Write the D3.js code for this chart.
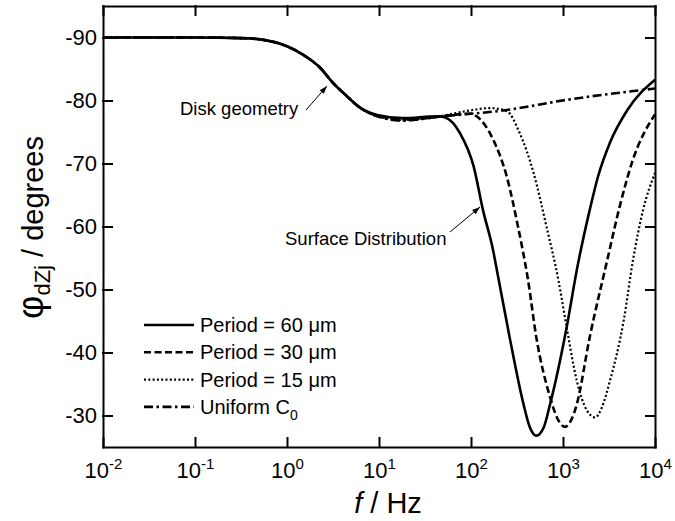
<!DOCTYPE html>
<html>
<head>
<meta charset="utf-8">
<script src="https://cdn.jsdelivr.net/npm/d3@7"></script>
<style>
body { margin: 0; background: #fff; }
text { font-family: Arial, "Liberation Sans", sans-serif; fill: #000; }
</style>
</head>
<body>
<div id="chart"></div>
<script>

// frequencies in Hz, phase angles in degrees
const freq60 = [0.01, 0.1, 0.316, 0.51, 1, 1.48, 2.29, 3.16, 4.47, 6.17, 9.55, 18.2, 42.7, 52.5, 76, 107, 135, 174, 191, 263, 372, 437, 513, 617, 724, 1096, 1413, 1950, 2399, 3236, 5012, 10000];
const phase60 = [-90, -90, -89.9, -89.7, -88.6, -87.3, -85.2, -82.8, -80.7, -78.9, -77.7, -77.2, -77.5, -77.3, -74.8, -69.5, -62.6, -56.2, -53.1, -42.4, -31.8, -28.1, -26.8, -28.1, -31.8, -44, -53.1, -62.6, -67.9, -73.3, -78.5, -83.3];

const freq30 = [0.01, 0.1, 0.316, 0.51, 1, 1.48, 2.29, 3.16, 4.47, 6.17, 9.55, 18.2, 42.7, 72, 100, 115, 174, 245, 324, 417, 513, 724, 871, 1047, 1230, 1413, 1950, 3020, 4169, 5754, 10000];
const phase30 = [-90, -90, -89.9, -89.7, -88.6, -87.3, -85.2, -82.8, -80.7, -78.9, -77.6, -77.0, -77.4, -77.8, -77.9, -77.5, -73.8, -67.9, -60, -51.5, -42.4, -32.9, -29.5, -28.2, -29.3, -31.8, -42.4, -54.6, -63.4, -70.6, -77.8];

const freq15 = [0.01, 0.1, 0.316, 0.51, 1, 1.48, 2.29, 3.16, 4.47, 6.17, 9.55, 18.2, 42.7, 63, 105, 162, 245, 339, 479, 661, 891, 1096, 1413, 1820, 2239, 2630, 3236, 4571, 5754, 7413, 10000];
const phase15 = [-90, -90, -89.9, -89.7, -88.6, -87.3, -85.2, -82.8, -80.7, -78.9, -77.5, -76.9, -77.4, -77.9, -78.5, -78.8, -78.3, -74.8, -68.5, -60, -51.5, -44, -35.5, -30.8, -29.7, -31.2, -35.5, -45.1, -54.6, -62.6, -68.5];

const freqUniform = [0.01, 0.1, 0.316, 0.51, 1, 1.48, 2.29, 3.16, 4.47, 6.17, 9.55, 18.2, 42.7, 245, 1096, 10000];
const phaseUniform = [-90, -90, -89.9, -89.7, -88.6, -87.3, -85.2, -82.8, -80.7, -78.9, -77.5, -76.8, -77.4, -78.5, -80.1, -81.9];

const xTicks = [0.01, 0.1, 1, 10, 100, 1000, 10000];
const xTickExp = ["-2", "-1", "0", "1", "2", "3", "4"];
const yTicks = [-90, -80, -70, -60, -50, -40, -30];

const seriesNames = ["Period = 60 \u03bcm", "Period = 30 \u03bcm", "Period = 15 \u03bcm", "Uniform C"];
const seriesDash = [null, "7,3.5", "2,2.3", "9,3.5,2.5,3.5"];

const margin = {top: 6, right: 20, bottom: 74, left: 103};
const width = 675 - margin.left - margin.right;
const height = 521 - margin.top - margin.bottom;

const svg = d3.select("#chart").append("svg")
    .attr("width", 675)
    .attr("height", 521)
    .append("g")
    .attr("transform", "translate(" + margin.left + "," + margin.top + ")");

const x = d3.scaleLog().domain([0.01, 10000]).range([0, width]);
const y = d3.scaleLinear().domain([-95, -25]).range([0, height]);

svg.append("clipPath").attr("id", "clip")
    .append("rect").attr("width", width).attr("height", height);

const series = [
    {f: freq60, p: phase60},
    {f: freq30, p: phase30},
    {f: freq15, p: phase15},
    {f: freqUniform, p: phaseUniform}
];

const line = d3.line()
    .x(d => x(d[0]))
    .y(d => y(d[1]))
    .curve(d3.curveMonotoneX);

series.forEach((s, i) => {
    svg.append("path")
        .datum(s.f.map((f, j) => [f, s.p[j]]))
        .attr("clip-path", "url(#clip)")
        .attr("fill", "none")
        .attr("stroke", "#000")
        .attr("stroke-width", i === 2 ? 2.2 : 2.6)
        .attr("stroke-dasharray", seriesDash[i])
        .attr("d", line);
});

// axes, ticks pointing inward on all four sides
const xAxis = svg.append("g")
    .attr("transform", "translate(0," + height + ")")
    .call(d3.axisBottom(x).tickValues(xTicks).tickSizeInner(-9).tickSizeOuter(0).tickPadding(15));
xAxis.selectAll(".tick text").each(function(d, i) {
    const t = d3.select(this).text(null).style("font-size", "22px");
    t.append("tspan").text("10");
    t.append("tspan").attr("dy", -9).style("font-size", "15px").text(xTickExp[i]);
});

svg.append("g")
    .call(d3.axisTop(x).tickValues(xTicks).tickSizeInner(-9).tickSizeOuter(0).tickFormat(""));

svg.append("g")
    .call(d3.axisLeft(y).tickValues(yTicks).tickSizeInner(-9).tickSizeOuter(0).tickPadding(6)
        .tickFormat(d => String(d)))
    .selectAll(".tick text").style("font-size", "22px");

svg.append("g")
    .attr("transform", "translate(" + width + ",0)")
    .call(d3.axisRight(y).tickValues(yTicks).tickSizeInner(-9).tickSizeOuter(0).tickFormat(""));

svg.selectAll(".domain, .tick line")
    .attr("stroke", "#000")
    .attr("stroke-width", 2)
    .attr("stroke-linecap", "square");

// axis titles
const yTitle = svg.append("text")
    .attr("transform", "translate(-60," + (height / 2 + 1) + ") rotate(-90)")
    .attr("text-anchor", "middle")
    .style("font-size", "29px");
yTitle.append("tspan").style("font-size", "36px").text("\u03c6");
yTitle.append("tspan").attr("dy", 7).style("font-size", "22px").text("dZj");
yTitle.append("tspan").attr("dy", -7).text(" / degrees");

const xTitle = svg.append("text")
    .attr("x", 285)
    .attr("y", height + 66)
    .attr("text-anchor", "middle")
    .style("font-size", "29px");
xTitle.append("tspan").style("font-style", "italic").text("f");
xTitle.append("tspan").text(" / Hz");

// legend
const legend = svg.append("g").attr("transform", "translate(41,319)");
seriesNames.forEach((name, i) => {
    const row = legend.append("g").attr("transform", "translate(0," + (i * 27.3) + ")");
    row.append("line")
        .attr("x1", 0).attr("x2", 50)
        .attr("stroke", "#000")
        .attr("stroke-width", i === 2 ? 2.2 : 2.6)
        .attr("stroke-dasharray", seriesDash[i]);
    const t = row.append("text")
        .attr("x", 56)
        .attr("dy", "0.35em")
        .style("font-size", "20px")
        .text(name);
    if (i === 3) {
        t.append("tspan").attr("dy", 6).style("font-size", "14px").text("0");
    }
});

// annotations
svg.append("defs").append("marker")
    .attr("id", "arrow")
    .attr("viewBox", "0 0 10 10")
    .attr("refX", 10).attr("refY", 5)
    .attr("markerWidth", 8).attr("markerHeight", 8)
    .attr("orient", "auto")
    .append("path").attr("d", "M0,1.5L10,5L0,8.5Z").attr("fill", "#000");

const notes = [
    {text: "Disk geometry", tx: 77, ty: 109, from: [203, 104], to: [224, 80]},
    {text: "Surface Distribution", tx: 182, ty: 239, from: [347, 226], to: [377, 201]}
];
notes.forEach(n => {
    svg.append("text").attr("x", n.tx).attr("y", n.ty).style("font-size", "18.5px").text(n.text);
    svg.append("line")
        .attr("x1", n.from[0]).attr("y1", n.from[1])
        .attr("x2", n.to[0]).attr("y2", n.to[1])
        .attr("stroke", "#000").attr("stroke-width", 1)
        .attr("marker-end", "url(#arrow)");
});

</script>
</body>
</html>
